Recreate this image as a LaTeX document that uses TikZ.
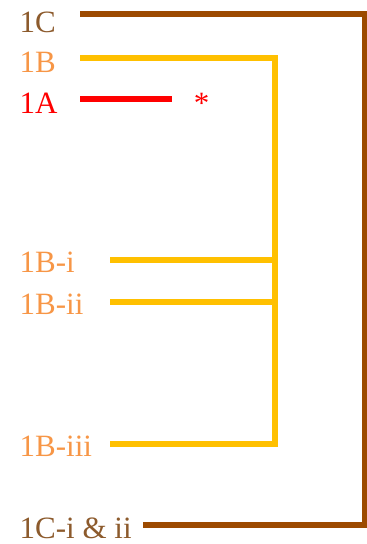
\documentclass[tikz,border=0pt]{standalone}
\usepackage{fontspec}
\setmainfont{Liberation Serif}
\usetikzlibrary{positioning}
\definecolor{brownline}{HTML}{9C4A00}
\definecolor{browntext}{HTML}{8C5A2C}
\definecolor{goldline}{HTML}{FFC000}
\definecolor{orangetext}{HTML}{F79646}
\tikzset{lbl/.style={anchor=base west, inner sep=0pt, font=\fontsize{31}{31}\selectfont}}

\begin{document}
\begin{tikzpicture}[x=1pt, y=-1pt, line width=5.5pt]
\useasboundingbox (0,0) rectangle (367,544);
% labels
\node[lbl, color=browntext] (C) at (17,32) {1C};
\node[lbl, color=orangetext] (B) at (17,72) {1B};
\node[lbl, color=red] (A) at (17,113) {1A};
\node[lbl, color=red] (star) at (191,113) {*};
\node[lbl, color=orangetext] (Bi) at (17,272) {1B-i};
\node[lbl, color=orangetext] (Bii) at (17,314) {1B-ii};
\node[lbl, color=orangetext] (Biii) at (17,456) {1B-iii};
\node[lbl, color=browntext] (Cii) at (17,538) {1C-i \& ii};
% line ends
\coordinate (Cs) at (80,14);
\coordinate (Ce) at (365,14);
\coordinate (Ciis) at (143,525);
\coordinate (Bs) at (80,58);
\coordinate (Be) at (275,58);
\coordinate (As) at (80,99);
\coordinate (Ae) at (172,99);
\coordinate (Bis) at (110,260);
\coordinate (Biis) at (110,302);
\coordinate (Biiis) at (110,444);
% brackets
\draw[brownline] (Cs) -- (Ce) |- (Ciis);
\draw[goldline] (Bs) -- (Be) |- (Biiis);
\draw[goldline] (Bis) -- (Bis -| Be);
\draw[goldline] (Biis) -- (Biis -| Be);
\draw[red, line width=6pt] (As) -- (Ae);
\end{tikzpicture}
\end{document}
